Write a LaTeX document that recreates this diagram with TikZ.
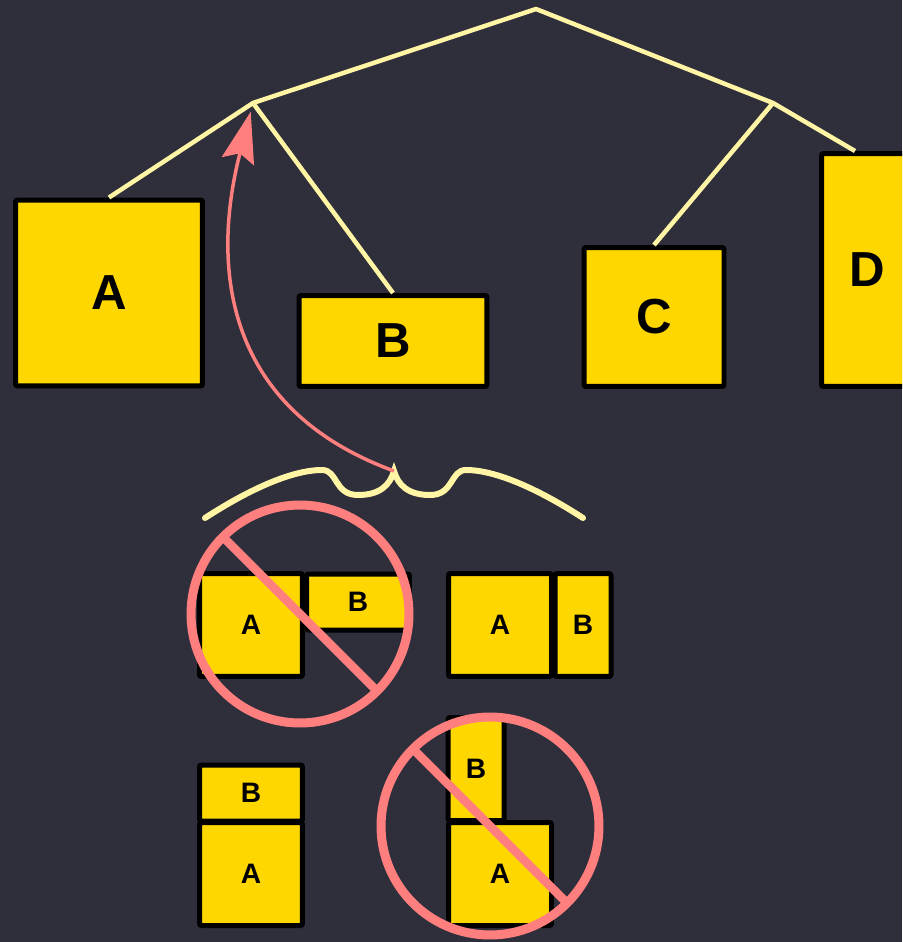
\documentclass[tikz,border=0pt]{standalone}
\usepackage{fontspec}
\setmainfont{Liberation Sans}
\usetikzlibrary{arrows.meta,calc}
\definecolor{bgdark}{HTML}{2F2E3B}
\definecolor{treeyellow}{HTML}{FFF5A5}
\definecolor{boxgold}{HTML}{FFD700}
\definecolor{nopink}{HTML}{FF7F7F}
\tikzset{
  blk/.style={draw=black, fill=boxgold, line width=0.1cm, rounded corners=0.04cm, inner sep=0pt, font=\bfseries\fontsize{28}{30}\selectfont},
  smallblk/.style={blk, font=\bfseries\fontsize{16}{18}\selectfont},
  sq/.style={smallblk, minimum width=2.06cm, minimum height=2.06cm},
  wide/.style={smallblk, minimum width=2.06cm, minimum height=1.12cm},
  tall/.style={smallblk, minimum width=1.12cm, minimum height=2.06cm},
  nosign/.style={circle, draw=nopink, line width=0.18cm, minimum size=4.36cm, inner sep=0pt, outer sep=0pt},
  treeline/.style={treeyellow, line width=0.09cm, line join=round}
}

\begin{document}
\begin{tikzpicture}[x=0.02cm,y=-0.02cm]
    \fill[bgdark] (0,0) rectangle (902,942);
    \clip (0,0) rectangle (902,942);
    \coordinate (root) at (536,9);
    \coordinate (L) at (253,103);
    \coordinate (R) at (773,103);

    \node[blk, minimum width=3.74cm, minimum height=3.72cm] (A) at (109,293) {A};
    \node[blk, minimum width=3.76cm, minimum height=1.82cm] (B) at (393,341) {B};
    \node[blk, minimum width=2.8cm, minimum height=2.78cm] (C) at (654,317) {C};
    \node[blk, minimum width=1.82cm, minimum height=4.66cm] (D) at (867,270) {D};

    \draw[treeline] (A.north) -- (L) -- (B.north);
    \draw[treeline] (L) -- (root) -- (R);
    \draw[treeline] (C.north) -- (R) -- ($(D.north)+(-12,0)$);

    \draw[treeyellow, line width=0.12cm, line cap=round]
      (205,518) .. controls (245,492) and (290,470) .. (322,470)
      .. controls (338,470) and (334,495) .. (358,495)
      .. controls (380,495) and (390,485) .. (394,471) coordinate (tip)
      .. controls (398,485) and (408,495) .. (430,495)
      .. controls (454,495) and (450,470) .. (466,470)
      .. controls (498,470) and (543,492) .. (583,518);
    \draw[nopink, line width=0.07cm, -{Stealth[length=1.02cm,width=0.66cm,inset=0.16cm]}, shorten >=0.18cm]
      (tip) .. controls (200,400) and (220,230) .. (L);

    \node[sq] (a1) at (251,625) {A};
    \node[wide] (b1) at (358,602) {B};
    \node[nosign] (no1) at (300,614) {};
    \draw[nopink, line width=0.17cm] (no1.north west) -- (no1.south east);

    \node[sq] (a2) at (500,625) {A};
    \node[tall] (b2) at (583,625) {B};

    \node[wide] (b3) at (251,793) {B};
    \node[sq] (a3) at (251,874) {A};

    \node[tall] (b4) at (476,769) {B};
    \node[sq] (a4) at (500,874) {A};
    \node[nosign] (no4) at (490,826) {};
    \draw[nopink, line width=0.17cm] (no4.north west) -- (no4.south east);
\end{tikzpicture}
\end{document}
